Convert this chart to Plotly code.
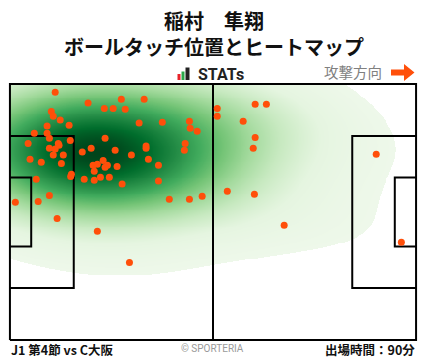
import numpy as np
import plotly.graph_objects as go

# ---------------- data (metres; x 0-105 towards attacking direction, y 0-68 bottom->top)
touch_x = [11.7, 20.2, 28.8, 34.7, 24.4, 26.7, 29.8, 10.7, 11.2, 13.0,
           9.6, 15.3, 33.4, 39.4, 46.4, 46.6, 48.4, 6.3, 9.6, 10.2,
           24.6, 15.6, 4.7, 12.5, 12.7, 45.3, 10.2, 11.7, 21.0, 27.2,
           35.2, 35.2, 45.1, 18.7, 11.2, 13.8, 31.4, 5.2, 8.1, 13.3,
           35.8, 24.1, 21.5, 22.6, 25.2, 24.6, 27.7, 38.4, 21.8, 15.9,
           15.7, 6.8, 19.2, 21.8, 23.4, 25.7, 29.0, 38.4, 10.2, 1.4,
           7.3, 41.2, 46.4, 49.7, 12.2, 22.6, 30.9, 53.6, 53.6, 63.4,
           66.3, 60.3, 63.4, 62.9, 56.2, 63.2, 94.7, 70.9, 101.2]
touch_y = [65.8, 62.9, 63.9, 63.9, 61.5, 61.5, 61.3, 60.7, 59.4, 58.4,
           56.8, 57.0, 57.6, 57.8, 58.1, 56.2, 55.4, 54.9, 54.9, 53.6,
           53.6, 53.0, 52.2, 52.2, 51.7, 52.2, 50.9, 50.7, 50.9, 50.4,
           51.5, 50.9, 50.4, 49.9, 49.1, 49.1, 49.1, 48.0, 47.2, 46.9,
           48.0, 47.7, 46.4, 46.7, 46.4, 45.9, 46.1, 46.4, 44.8, 44.0,
           43.4, 42.7, 42.7, 42.4, 43.2, 43.2, 41.4, 42.2, 38.4, 36.6,
           36.8, 37.4, 37.4, 38.2, 32.3, 28.9, 20.6, 61.5, 59.4, 62.6,
           62.6, 58.1, 53.8, 50.9, 39.5, 38.7, 49.3, 30.5, 26.0]

title_name = "稲村　隼翔"
title_sub = "ボールタッチ位置とヒートマップ"
logo_text = "STATs"
direction_label = "攻撃方向"
match_label = "J1 第4節 vs C大阪"
credit_label = "© SPORTERIA"
minutes_label = "出場時間：90分"

greens = [[0.0, "#eef8ea"], [0.125, "#e5f5e0"], [0.25, "#c7e9c0"], [0.375, "#a1d99b"],
          [0.5, "#74c476"], [0.625, "#41ab5d"], [0.75, "#238b45"], [0.875, "#006d2c"],
          [1.0, "#00441b"]]
BW_ADJUST = 2.0
THRESH = 0.06

# ---------------- layout geometry
W, H = 428, 359
L, R, T, B = 8, 10, 82, 17
PW, PH = W - L - R, H - T - B
XR, YR = [-0.5, 105.5], [-0.5, 68.5]


def pp(px, py):
    return (px - L) / PW, 1 - (py - T) / PH


# ---------------- kernel density (Scott's rule, full covariance) from the touch points
pts = np.vstack([touch_x, touch_y])
n = pts.shape[1]
factor = n ** (-1 / 6) * BW_ADJUST
cov = np.cov(pts) * factor ** 2
inv = np.linalg.inv(cov)


def kde(gx, gy):
    out = np.zeros_like(gx)
    for px_, py_ in pts.T:
        dx = gx - px_
        dy = gy - py_
        out += np.exp(-0.5 * (inv[0, 0] * dx * dx + 2 * inv[0, 1] * dx * dy + inv[1, 1] * dy * dy))
    return out


# support grid for isoproportion levels
sx = np.linspace(-90, 195, 340)
sy = np.linspace(-70, 138, 300)
SX, SY = np.meshgrid(sx, sy)
sd = np.sort(kde(SX, SY).ravel())
cm = np.cumsum(sd) / sd.sum()

gx = np.arange(0, 105.001, 0.25)
gy = np.arange(0, 68.001, 0.25)
GX, GY = np.meshgrid(gx, gy)
dens = kde(GX, GY)
q = np.interp(dens, sd, cm)
z = np.where(q < THRESH, np.nan, np.round(q, 4))

fig = go.Figure()

fig.add_trace(go.Heatmap(x=gx, y=gy, z=z, colorscale=greens, zmin=THRESH, zmax=1.0,
                         showscale=False, zsmooth=False, hoverinfo="skip"))

# pitch lines
lx, ly = [], []
def seg(xs, ys):
    lx.extend(xs + [None]); ly.extend(ys + [None])
seg([0, 105, 105, 0, 0], [0, 0, 68, 68, 0])
seg([52.5, 52.5], [0, 68])
seg([0, 16.5, 16.5, 0], [13.84, 13.84, 54.16, 54.16])
seg([0, 5.5, 5.5, 0], [24.84, 24.84, 43.16, 43.16])
seg([105, 88.5, 88.5, 105], [13.84, 13.84, 54.16, 54.16])
seg([105, 99.5, 99.5, 105], [24.84, 24.84, 43.16, 43.16])
fig.add_trace(go.Scatter(x=lx, y=ly, mode="lines", line=dict(color="black", width=2),
                         hoverinfo="skip", showlegend=False))

fig.add_trace(go.Scatter(x=touch_x, y=touch_y, mode="markers",
                         marker=dict(color="#ff4f0a", size=7, line=dict(width=0)),
                         hoverinfo="skip", showlegend=False))

ann = []
def text(s, px, py, size, color="#111", xanchor="center", weight="normal", family="Noto Sans CJK JP"):
    x, y = pp(px, py)
    ann.append(dict(text=s, x=x, y=y, xref="paper", yref="paper", xanchor=xanchor, yanchor="middle",
                    showarrow=False, font=dict(size=size, color=color, family=family, weight=weight)))

text(title_name, 214, 21, 20, weight="bold")
text(title_sub, 214, 46, 20, weight="bold")
text(logo_text, 196, 74, 16, color="#222", xanchor="left", weight="bold", family="Roboto")
text(direction_label, 384, 72, 14.5, color="#808080", xanchor="right")
text(match_label, 9, 349, 12.5, xanchor="left", weight="bold")
text(credit_label, 212, 348, 10, color="#9a9a9a", family="Roboto")
text(minutes_label, 417, 349, 12.5, xanchor="right", weight="bold")

shapes = []
# circles below the heat layer (only visible where the heat layer is empty)
shapes.append(dict(type="circle", xref="x", yref="y", x0=52.5 - 9.15, x1=52.5 + 9.15,
                   y0=34 - 9.15, y1=34 + 9.15, line=dict(color="black", width=1.5), layer="below"))
for cx, sgn in [(11, 1), (94, -1)]:
    a = np.arccos(5.5 / 9.15)
    t2 = np.linspace(-a, a, 40)
    xs = cx + sgn * 9.15 * np.cos(t2)
    ys = 34 + 9.15 * np.sin(t2)
    p = "M" + " L".join(f"{u:.3f},{v:.3f}" for u, v in zip(xs, ys))
    shapes.append(dict(type="path", xref="x", yref="y", path=p,
                       line=dict(color="black", width=1.5), layer="below"))


def rect(x0, y0, x1, y1, color):
    a0, b0 = pp(x0, y0); a1, b1 = pp(x1, y1)
    shapes.append(dict(type="rect", xref="paper", yref="paper", x0=a0, y0=b0, x1=a1, y1=b1,
                       fillcolor=color, line=dict(width=0)))
rect(177.5, 74, 180.5, 80, "#e8232a")
rect(181.5, 71.5, 184.5, 80, "#2aa84a")
rect(185.5, 67.5, 189.5, 80, "#222222")

arrow_px = [(391, 69.5), (404, 69.5), (404, 64), (414.5, 72.5), (404, 81), (404, 75.5), (391, 75.5)]
path = ""
for i, (ax_, ay_) in enumerate(arrow_px):
    a, b = pp(ax_, ay_)
    path += ("M" if i == 0 else "L") + f"{a:.5f},{b:.5f} "
path += "Z"
shapes.append(dict(type="path", xref="paper", yref="paper", path=path, fillcolor="#ff4f0a",
                   line=dict(width=0)))

fig.update_layout(
    width=W, height=H, margin=dict(l=L, r=R, t=T, b=B),
    paper_bgcolor="white", plot_bgcolor="white",
    xaxis=dict(range=XR, visible=False, fixedrange=True),
    yaxis=dict(range=YR, visible=False, fixedrange=True),
    annotations=ann, shapes=shapes, showlegend=False,
)
fig.write_html("out.html", config={"displayModeBar": False, "staticPlot": True},
               post_script="document.body.style.margin='0';document.body.style.padding='0';")
